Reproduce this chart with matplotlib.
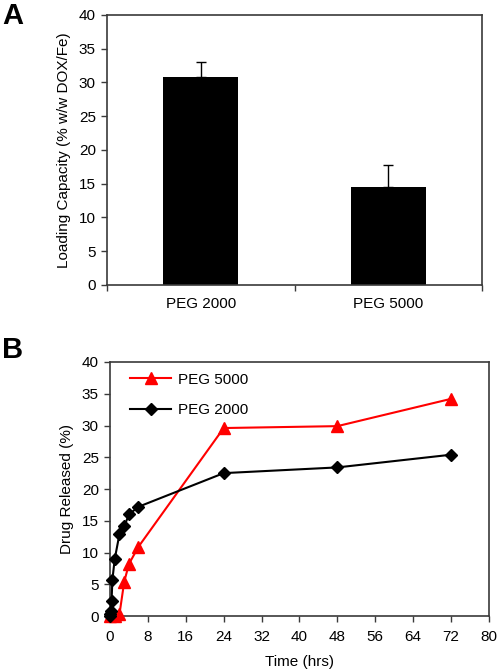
import matplotlib
matplotlib.use("Agg")
from matplotlib import pyplot as plt
import numpy as np

plt.rcParams['font.family'] = ['Liberation Sans', 'DejaVu Sans']

# Panel A: loading capacity
groups = ["PEG 2000", "PEG 5000"]
loading = [30.8, 14.5]
loading_err = [2.2, 3.3]

# Panel B: release profile
t_5000 = [0, 1, 2, 3, 4, 6, 24, 48, 72]
rel_5000 = [0, 0, 0.3, 5.4, 8.2, 10.9, 29.6, 29.9, 34.2]
t_2000 = [0, 0.08, 0.17, 0.33, 0.5, 1, 2, 3, 4, 6, 24, 48, 72]
rel_2000 = [0, 0.3, 0.8, 2.4, 5.7, 9.0, 12.9, 14.1, 16.0, 17.2, 22.5, 23.4, 25.4]

spine_col = "#3a3a3a"
fs = 11

fig = plt.figure(figsize=(4.98, 6.69), dpi=100)

def frame(ax):
    for s in ax.spines.values():
        s.set_color(spine_col)
        s.set_linewidth(1.2)
    ax.tick_params(direction="out", length=4, width=1, color=spine_col,
                   labelsize=fs, pad=4)

# ---- A
ax1 = fig.add_axes([0.2149, 0.574, 0.753, 0.4036])
x = np.arange(len(groups))
ax1.bar(x, loading, width=0.4, color="black",
        yerr=[[0, 0], loading_err], capsize=3.5,
        error_kw=dict(ecolor="black", elinewidth=1, capthick=1))
ax1.set_xlim(-0.5, 1.5)
ax1.set_ylim(0, 40)
ax1.set_yticks(range(0, 45, 5))
ax1.set_xticks([-0.5, 0.5, 1.5])
ax1.set_xticklabels([])
ax1.set_xticks(x, minor=True)
ax1.set_xticklabels(groups, minor=True)
frame(ax1)
ax1.tick_params(axis="x", which="minor", length=0, labelsize=fs, pad=9)
ax1.set_ylabel("Loading Capacity (% w/w DOX/Fe)", fontsize=fs, labelpad=6)

# ---- B
ax2 = fig.add_axes([0.2209, 0.0792, 0.761, 0.3797])
ax2.plot(t_5000, rel_5000, color="red", marker="^", markersize=8,
         linewidth=1.5, label="PEG 5000", clip_on=False, zorder=3)
ax2.plot(t_2000, rel_2000, color="black", marker="D", markersize=6,
         linewidth=1.5, label="PEG 2000", clip_on=False, zorder=4)
ax2.set_xlim(0, 80)
ax2.set_ylim(0, 40)
ax2.set_xticks(range(0, 88, 8))
ax2.set_yticks(range(0, 45, 5))
frame(ax2)
ax2.tick_params(axis="x", pad=6)
ax2.set_xlabel("Time (hrs)", fontsize=fs, labelpad=8)
ax2.set_ylabel("Drug Released (%)", fontsize=fs, labelpad=6)
ax2.legend(loc="upper left", frameon=False, fontsize=fs, handlelength=2.7,
           labelspacing=1.1, borderaxespad=0.3, handletextpad=0.4,
           bbox_to_anchor=(0.025, 1.0))

fig.text(0.005, 0.997, "A", fontsize=21, fontweight="bold", va="top")
fig.text(0.005, 0.498, "B", fontsize=21, fontweight="bold", va="top")

fig.savefig("out.png", dpi=100)
